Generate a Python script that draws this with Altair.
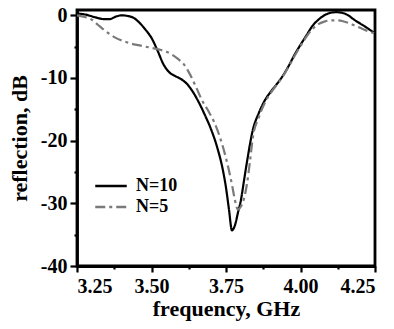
import altair as alt
import pandas as pd

series = ["N=10", "N=5"]

freq_n10 = [3.25, 3.28, 3.31, 3.34, 3.36, 3.38, 3.40, 3.42, 3.44, 3.46, 3.48, 3.50,
            3.52, 3.54, 3.56, 3.58, 3.60, 3.62, 3.64, 3.66, 3.68, 3.70, 3.72, 3.74,
            3.75, 3.76, 3.77, 3.78, 3.79, 3.80, 3.81, 3.82, 3.84, 3.86, 3.88, 3.90,
            3.92, 3.94, 3.96, 3.98, 4.00, 4.02, 4.04, 4.06, 4.08, 4.10, 4.12, 4.14,
            4.16, 4.18, 4.20, 4.22, 4.25]
refl_n10 = [0.3, 0.1, -0.3, -0.6, -0.6, -0.2, 0.0, -0.1, -0.4, -1.2, -2.3, -3.6,
            -5.6, -7.8, -9.1, -9.7, -10.2, -11.0, -12.3, -14.0, -16.0, -18.2, -21.0, -24.8,
            -27.5, -31.0, -34.3, -33.5, -31.5, -29.5, -26.5, -23.5, -18.3, -15.6, -13.6, -12.2,
            -11.0, -9.7, -8.1, -6.3, -4.7, -3.2, -1.7, -0.7, 0.0, 0.4, 0.5, 0.4,
            0.0, -0.7, -1.3, -1.9, -2.9]

freq_n5 = [3.25, 3.28, 3.30, 3.32, 3.34, 3.36, 3.38, 3.40, 3.43, 3.46, 3.49, 3.52,
           3.55, 3.57, 3.59, 3.61, 3.63, 3.65, 3.67, 3.69, 3.71, 3.73, 3.75, 3.77,
           3.78, 3.79, 3.80, 3.81, 3.82, 3.83, 3.84, 3.86, 3.88, 3.90, 3.92, 3.94,
           3.96, 3.98, 4.00, 4.02, 4.04, 4.06, 4.08, 4.10, 4.12, 4.14, 4.16, 4.18,
           4.20, 4.22, 4.25]
refl_n5 = [0.0, -0.3, -0.7, -1.5, -2.3, -3.0, -3.6, -4.0, -4.5, -4.8, -5.1, -5.4,
           -5.8, -6.3, -7.0, -7.9, -9.5, -11.5, -13.6, -15.2, -17.0, -19.5, -22.8, -27.0,
           -29.5, -31.0, -30.5, -29.3, -27.0, -23.5, -19.5, -16.3, -14.0, -12.4, -11.1, -9.8,
           -8.2, -6.5, -4.9, -3.4, -2.2, -1.4, -1.0, -0.8, -0.8, -0.9, -1.2, -1.6,
           -2.0, -2.4, -2.9]

x_major = [3.25, 3.5, 3.75, 4.0, 4.25]
x_minor = [3.375, 3.625, 3.875, 4.125]
y_major = [-40, -30, -20, -10, 0]
y_minor = [-35, -25, -15, -5]

df = pd.concat([
    pd.DataFrame({"freq": freq_n10, "refl": refl_n10, "series": series[0]}),
    pd.DataFrame({"freq": freq_n5, "refl": refl_n5, "series": series[1]}),
])

FONT = "Liberation Serif"
xscale = alt.Scale(domain=[3.25, 4.25], nice=False, zero=False)
yscale = alt.Scale(domain=[-40, 0.85], nice=False, zero=False)

lines = alt.Chart(df).mark_line(strokeWidth=2.2, interpolate="monotone").encode(
    x=alt.X("freq:Q", scale=xscale,
            axis=alt.Axis(values=x_major, format=".2f", title="frequency, GHz",
                          tickSize=6, orient="bottom", labelPadding=4, titlePadding=2)),
    y=alt.Y("refl:Q", scale=yscale,
            axis=alt.Axis(values=y_major, labelExpr="'' + datum.value", title="reflection, dB",
                          tickSize=7, orient="left", labelPadding=3, titlePadding=9)),
    color=alt.Color("series:N", scale=alt.Scale(domain=series, range=["#000000", "#7a7a7a"]),
                    legend=alt.Legend(title=None, orient="none", legendX=22, legendY=164,
                                      symbolType="M-1.5,0H1.5", symbolSize=441,
                                      symbolStrokeWidth=2.5, labelFont=FONT,
                                      labelFontSize=18, labelFontWeight="bold",
                                      labelColor="black", labelOffset=13, padding=0,
                                      rowPadding=0)),
    strokeDash=alt.StrokeDash("series:N", scale=alt.Scale(domain=series, range=[[1, 0], [10, 4, 3, 4]]),
                              legend=None),
)

minor = alt.Chart(df).mark_point(opacity=0).encode(
    x=alt.X("freq:Q", scale=xscale,
            axis=alt.Axis(values=x_minor, labels=False, title=None, tickSize=3,
                          domain=False, orient="bottom")),
    y=alt.Y("refl:Q", scale=yscale,
            axis=alt.Axis(values=y_minor, labels=False, title=None, tickSize=3,
                          domain=False, orient="left")),
)

chart = alt.layer(lines, minor).resolve_axis(x="independent", y="independent").properties(
    width=298, height=256,
    autosize=alt.AutoSizeParams(type="none"),
    padding={"left": 69, "top": 2, "right": 10, "bottom": 55},
).configure_view(stroke="black", strokeWidth=2.8).configure_axis(
    grid=False, domainColor="black", domainWidth=2.8, tickColor="black", tickWidth=2.2,
    labelFont=FONT, labelFontSize=20, labelFontWeight="bold", labelColor="black",
    titleFont=FONT, titleFontSize=22, titleFontWeight="bold", titleColor="black",
)

chart.save("out.html", embed_options={"renderer": "svg", "actions": False})
